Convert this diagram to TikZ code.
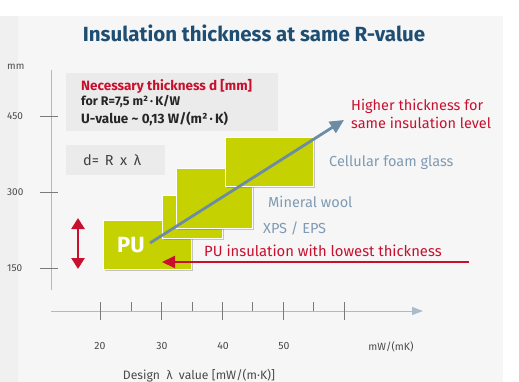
\documentclass[tikz,border=0pt]{standalone}
\usepackage{fontspec}
\setmainfont{Fira Sans}
\usetikzlibrary{shadows,arrows.meta}
\definecolor{bgpanel}{HTML}{F6F6F6}
\definecolor{bgstrip}{HTML}{F0F0F0}
\definecolor{boxgray}{HTML}{EBEBEB}
\definecolor{lime}{HTML}{C5D100}
\definecolor{titleblue}{HTML}{1F4E73}
\definecolor{redc}{HTML}{C8102E}
\definecolor{steel}{HTML}{7F9BB3}
\definecolor{arrowblue}{HTML}{6C8CA5}
\definecolor{axisc}{HTML}{A8BCCC}
\definecolor{tickc}{HTML}{7A7A7A}
\definecolor{labc}{HTML}{4A4A4A}
\begin{document}
\begin{tikzpicture}[x=1pt,y=-1pt,
  block/.style={fill=lime, draw=white, line width=1.2pt, inner sep=0pt, anchor=north west,
    drop shadow={shadow xshift=1.5pt,shadow yshift=-1.5pt,opacity=0.35,fill=black!60}},
  infobox/.style={fill=boxgray, draw=none},
  axisline/.style={draw=axisc, line width=1pt},
  tickline/.style={draw=tickc, line width=0.6pt},
  ticklab/.style={text=labc, font=\fontsize{10.5}{12}\selectfont, inner sep=0pt},
  matlab/.style={text=steel, font=\fontsize{14.5}{16}\selectfont, anchor=west, inner sep=0pt},
  redlab/.style={text=redc, font=\fontsize{14.5}{17.5}\selectfont, anchor=west, inner sep=0pt, align=left},
  infotext/.style={font=\fontsize{12.5}{15}\selectfont\bfseries, anchor=west, inner sep=0pt, text=black!85}
]
\useasboundingbox (0,0) rectangle (519,382);
% background
\fill[white] (0,0) rectangle (519,382);
\fill[bgpanel] (0,16) rectangle (503,382);
\fill[bgstrip] (0,16) rectangle (18,382);
% title
\node[text=titleblue, font=\fontsize{20.5}{24}\selectfont\bfseries, inner sep=0pt] (title) at (254,33) {Insulation thickness at same R-value};
% info boxes
\fill[infobox] (66,73) rectangle (278,131);
\node[infotext, text=redc, font=\fontsize{13.5}{15}\selectfont\bfseries] (nec) at (81,86) {Necessary thickness d [mm]};
\node[infotext] (forR) at (81,102) {for R=7,5 m²\,·\,K/W};
\node[infotext, font=\fontsize{13.5}{15}\selectfont\bfseries] (uval) at (81,119) {U-value \char"007E{} 0,13 W/(m²\,·\,K)};
\fill[infobox] (66,145) rectangle (165,175);
\node[font=\fontsize{14.5}{16}\selectfont, text=black!75, anchor=west, inner sep=0pt] (formula) at (83,160) {d=\hspace{0.4em}R\hspace{0.45em}x\hspace{0.45em}λ};
% vertical axis
\coordinate (vtop) at (51,70);
\coordinate (vbot) at (51,290);
\draw[axisline] (vtop) -- (vbot);
\node[ticklab, font=\fontsize{10}{11}\selectfont, anchor=west] (mm) at (7,67) {mm};
\foreach \yy/\lab in {116/450,192/300,268/150}{
  \draw[tickline] (40,\yy) -- (58,\yy);
  \node[ticklab, font=\fontsize{10}{11}\selectfont, anchor=west] at (7,\yy) {\lab};
}
% horizontal axis
\coordinate (hstart) at (51,311);
\coordinate (hend) at (423,311);
\draw[axisline, -{Triangle[length=11pt,width=8pt]}] (hstart) -- (hend);
\foreach \xx in {100,161,222,283,344}{\draw[tickline] (\xx,302) -- (\xx,320);}
\foreach \xx in {131,192,252,313}{\draw[tickline] (\xx,302) -- (\xx,311);}
\node[ticklab] (l20) at (100,346) {20};
\node[ticklab] (l30) at (162,346) {30};
\node[ticklab] (l40) at (223,346) {40};
\node[ticklab] (l50) at (284,346) {50};
\node[ticklab, font=\fontsize{10.5}{12}\selectfont] (unit) at (391,347) {mW/(mK)};
\node[ticklab, font=\fontsize{12.2}{14}\selectfont] (design) at (199,376) {Design\ \ λ\ \ value [mW/(m·K)]};
% blocks
\node[block, minimum width=88pt, minimum height=49pt] (pu) at (103,220) {};
\node[block, minimum width=60pt, minimum height=43pt] (xps) at (162,195) {};
\node[block, minimum width=76pt, minimum height=60pt] (mw) at (176,168) {};
\node[block, minimum width=88pt, minimum height=49pt] (cfg) at (225,137) {};
\node[text=white, font=\fontsize{22}{24}\selectfont\bfseries, inner sep=0pt] (putext) at (131,245) {PU};
% material labels
\node[matlab] (cfglab) at (329,163) {Cellular foam glass};
\node[matlab] (mwlab) at (268,202) {Mineral wool};
\node[matlab] (xpslab) at (263,228) {XPS / EPS};
% grey arrow
\coordinate (gstart) at (150,243);
\coordinate (gend) at (344,120);
\draw[draw=arrowblue, line width=2.8pt, -{Triangle[length=14pt,width=13pt]}] (gstart) -- (gend);
\node[redlab] (higher) at (351,114) {Higher thickness for\\same insulation level};
% red arrow
\node[redlab, font=\fontsize{14.8}{17.5}\selectfont] (pulab) at (204,251) {PU insulation with lowest thickness};
\coordinate (rstart) at (469,262);
\coordinate (rend) at (162,262);
\draw[draw=redc, line width=2pt, -{Triangle[length=13pt,width=12pt]}] (rstart) -- (rend);
% double arrow
\coordinate (dtop) at (78,218);
\coordinate (dbot) at (78,269);
\draw[draw=redc, line width=2.5pt, {Triangle[length=11pt,width=13pt]}-{Triangle[length=11pt,width=13pt]}] (dtop) -- (dbot);
\end{tikzpicture}
\end{document}
